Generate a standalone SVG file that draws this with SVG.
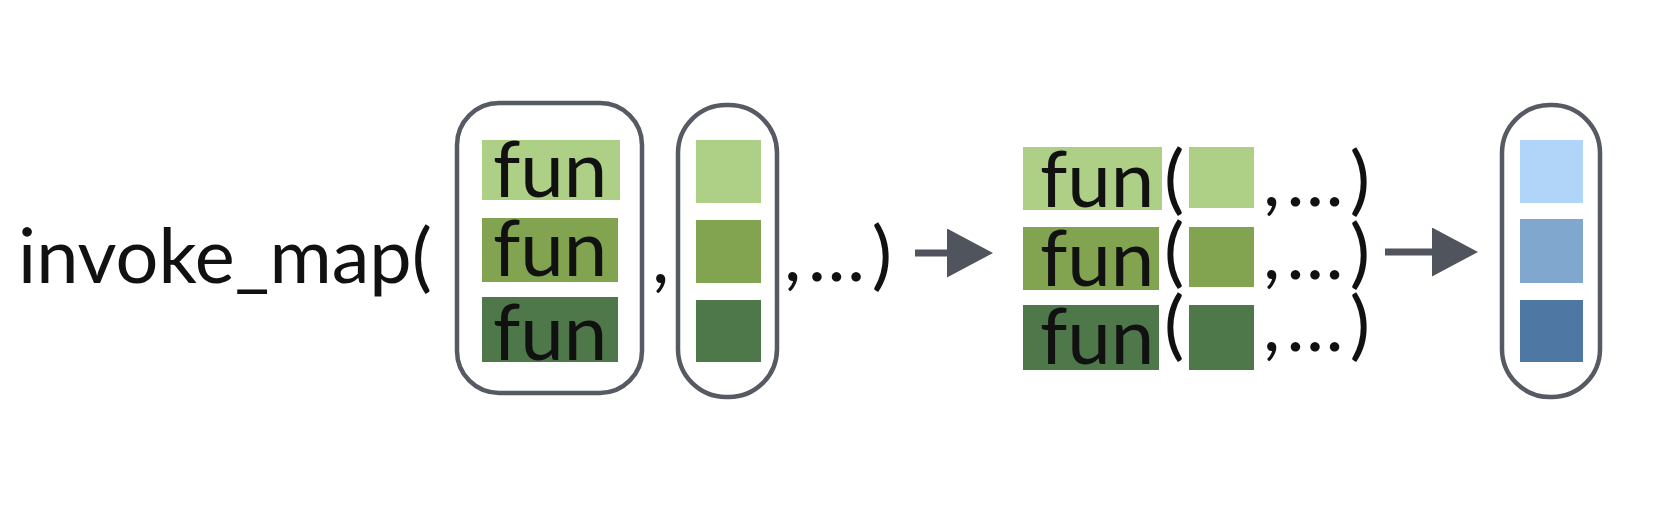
<svg xmlns="http://www.w3.org/2000/svg" width="1654" height="508" viewBox="0 0 1654 508">
<style>
.t{font-family:Lato,"Open Sans","Liberation Sans",sans-serif;font-size:76px;fill:#111;}
.f{font-family:Lato,"Open Sans","Liberation Sans",sans-serif;font-size:78px;fill:#111;}
.cap{fill:none;stroke:#565a62;stroke-width:4.5;}
.g1{fill:#aecf86;}
.g2{fill:#82a34f;}
.g3{fill:#4e774a;}
.b1{fill:#b0d5f8;}
.b2{fill:#80a8cf;}
.b3{fill:#4e78a3;}
.arr{stroke:#50545d;stroke-width:7;fill:none;}
</style>
<defs>
<marker id="ah" markerUnits="userSpaceOnUse" markerWidth="46" markerHeight="49" refX="0" refY="24.5" orient="auto">
<path d="M0,0 L46,24.5 L0,49 Z" fill="#50545d"/>
</marker>
</defs>
<rect width="1654" height="508" fill="#fff"/>
<g id="call-label">
<text class="t" x="18" y="283" textLength="414" lengthAdjust="spacingAndGlyphs">invoke_map(</text>
</g>
<g id="fun-list">
<rect class="cap" x="457" y="103" width="185" height="290" rx="42"/>
<rect class="g1" x="482" y="140" width="138" height="60"/>
<rect class="g2" x="482" y="218" width="136" height="64"/>
<rect class="g3" x="482" y="297" width="136" height="65"/>
<text class="f" x="493" y="197">fun</text>
<text class="f" x="493" y="276">fun</text>
<text class="f" x="493" y="360">fun</text>
</g>
<g id="sep1">
<text class="t" x="652" y="283">,</text>
</g>
<g id="arg-list">
<rect class="cap" x="678" y="105" width="99" height="292" rx="48"/>
<rect class="g1" x="696" y="140" width="65" height="63"/>
<rect class="g2" x="696" y="220" width="65" height="63"/>
<rect class="g3" x="696" y="300" width="65" height="62"/>
</g>
<g id="rest-args">
<text class="t" x="784" y="281" textLength="108" lengthAdjust="spacing">,…)</text>
</g>
<g id="calls">
<rect class="g1" x="1023" y="147" width="139" height="63"/>
<rect class="g2" x="1023" y="227" width="136" height="63"/>
<rect class="g3" x="1023" y="305" width="136" height="65"/>
<text class="f" x="1040" y="207">fun</text>
<text class="f" x="1040" y="286">fun</text>
<text class="f" x="1040" y="364">fun</text>
<text class="t" x="1164" y="205">(</text>
<text class="t" x="1164" y="278">(</text>
<text class="t" x="1164" y="351">(</text>
<rect class="g1" x="1189" y="147" width="65" height="61"/>
<rect class="g2" x="1189" y="227" width="65" height="60"/>
<rect class="g3" x="1189" y="305" width="65" height="65"/>
<text class="t" x="1263" y="206" textLength="107" lengthAdjust="spacing">,…)</text>
<text class="t" x="1263" y="279" textLength="107" lengthAdjust="spacing">,…)</text>
<text class="t" x="1263" y="351" textLength="107" lengthAdjust="spacing">,…)</text>
</g>
<g id="result">
<rect class="cap" x="1502" y="105" width="98" height="292" rx="48"/>
<rect class="b1" x="1520" y="140" width="63" height="63"/>
<rect class="b2" x="1520" y="219" width="63" height="64"/>
<rect class="b3" x="1520" y="300" width="63" height="62"/>
</g>
<g id="connectors">
<line class="arr" x1="915" y1="253" x2="947" y2="253" marker-end="url(#ah)"/>
<line class="arr" x1="1385" y1="252" x2="1432" y2="252" marker-end="url(#ah)"/>
</g>
</svg>
